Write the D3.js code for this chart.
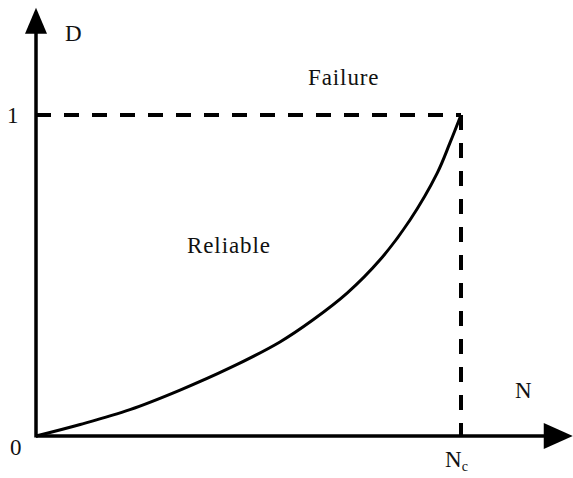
<!DOCTYPE html>
<html><head><meta charset="utf-8">
<script src="https://cdn.jsdelivr.net/npm/d3@7"></script>
<style>body{margin:0;background:#fff}svg{display:block}text{font-family:"Liberation Serif","Times New Roman",serif;fill:#111}</style>
</head><body><svg id="c" width="573" height="478"></svg>
<script>
// Data: normalized life ratio N/Nc and damage D
const lifeRatio = [0, 0.104, 0.221, 0.339, 0.456, 0.574, 0.652, 0.732, 0.809, 0.880, 0.944, 0.974, 1];
const damage    = [0, 0.036, 0.082, 0.143, 0.212, 0.293, 0.362, 0.445, 0.548, 0.673, 0.819, 0.913, 1];
const axisExtent = {x: 1.263, y: 1.334};
const labels = {y: "D", x: "N", origin: "0", one: "1", failure: "Failure", reliable: "Reliable"};

const svg = d3.select("#c");
const x = d3.scaleLinear().domain([0, 1]).range([36, 461]);
const y = d3.scaleLinear().domain([0, 1]).range([436, 115]);

// dashed guides
svg.append("line").attr("x1", x(0)).attr("x2", x(1)).attr("y1", y(1)).attr("y2", y(1))
  .attr("stroke", "#000").attr("stroke-width", 4).attr("stroke-dasharray", "15,13");
svg.append("line").attr("x1", x(1)).attr("x2", x(1)).attr("y1", y(1)).attr("y2", y(0))
  .attr("stroke", "#000").attr("stroke-width", 4).attr("stroke-dasharray", "15,13");

// curve
const pts = lifeRatio.map((v, i) => [v, damage[i]]);
svg.append("path").datum(pts)
  .attr("d", d3.line().x(d => x(d[0])).y(d => y(d[1])).curve(d3.curveCatmullRom.alpha(0.5)))
  .attr("fill", "none").attr("stroke", "#000").attr("stroke-width", 3);

// axes
const xEnd = x(axisExtent.x), yEnd = y(axisExtent.y);
svg.append("line").attr("x1", x(0)).attr("x2", xEnd - 26).attr("y1", y(0)).attr("y2", y(0))
  .attr("stroke", "#000").attr("stroke-width", 3.5);
svg.append("line").attr("x1", x(0)).attr("x2", x(0)).attr("y1", y(0) + 1.5).attr("y2", yEnd + 24)
  .attr("stroke", "#000").attr("stroke-width", 3.5);
svg.append("path").attr("d", `M${xEnd},${y(0)} L${xEnd - 29},${y(0) - 13} L${xEnd - 29},${y(0) + 13} Z`).attr("fill", "#000");
svg.append("path").attr("d", `M${x(0)},${yEnd} L${x(0) - 11},${yEnd + 26} L${x(0) + 11},${yEnd + 26} Z`).attr("fill", "#000");

// text
const fs = 23;
const t = (tx, ty, s) => svg.append("text").attr("x", tx).attr("y", ty).attr("font-size", fs).attr("letter-spacing", 0.9).text(s);
t(65, 41, labels.y);
t(7, 123, labels.one);
t(10, 455, labels.origin);
t(308, 85, labels.failure);
t(187, 253, labels.reliable);
t(515, 398, labels.x);
const nc = svg.append("text").attr("x", 445).attr("y", 467).attr("font-size", fs);
nc.append("tspan").text("N");
nc.append("tspan").attr("font-size", 14).attr("dy", 4).text("c");
</script></body></html>
